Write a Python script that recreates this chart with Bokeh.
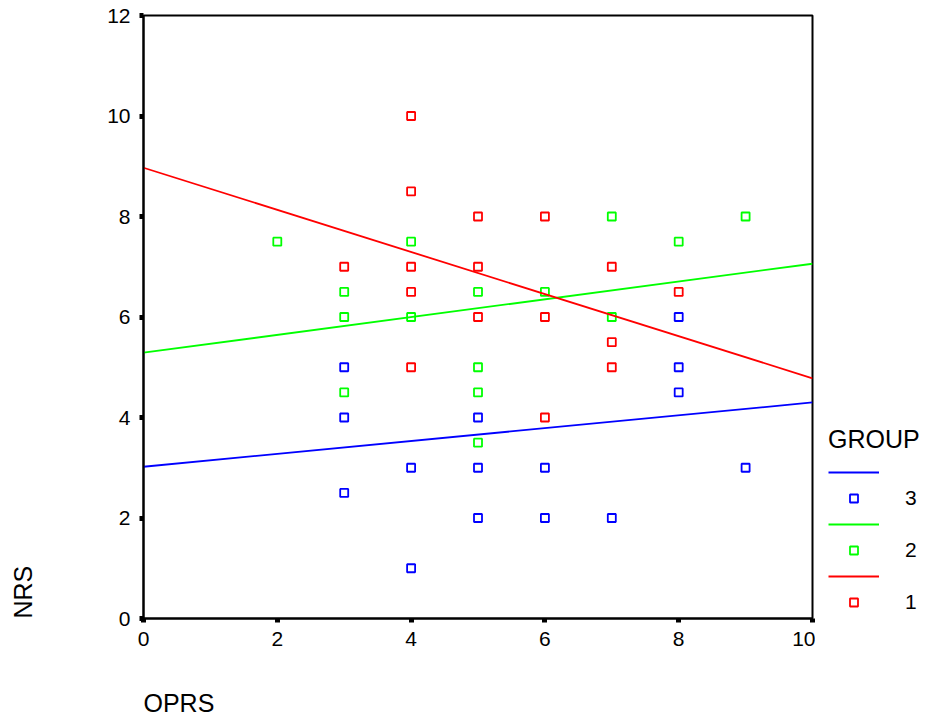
from bokeh.plotting import figure
from bokeh.models import Range1d, Legend, LegendItem, Title, FixedTicker
from bokeh.layouts import row
from bokeh.embed import file_html
from bokeh.resources import INLINE

# ---- data ----
groups = ["3", "2", "1"]
colors = ["#0000FF", "#00FF00", "#FF0000"]

oprs_g3 = [3, 3, 5, 4, 5, 6, 9, 3, 5, 6, 7, 4, 8, 8, 8]
nrs_g3 = [5, 4, 4, 3, 3, 3, 3, 2.5, 2, 2, 2, 1, 6, 5, 4.5]

oprs_g2 = [2, 4, 7, 9, 8, 3, 5, 6, 3, 4, 7, 5, 3, 5, 5]
nrs_g2 = [7.5, 7.5, 8, 8, 7.5, 6.5, 6.5, 6.5, 6, 6, 6, 5, 4.5, 4.5, 3.5]

oprs_g1 = [4, 4, 5, 6, 7, 3, 4, 5, 4, 8, 5, 6, 7, 4, 7, 6]
nrs_g1 = [10, 8.5, 8, 8, 7, 7, 7, 7, 6.5, 6.5, 6, 6, 5.5, 5, 5, 4]

# fitted lines (value at OPRS=0 and OPRS=10)
fit_x = [0, 10]
fit_g3 = [3.02, 4.30]
fit_g2 = [5.29, 7.06]
fit_g1 = [8.97, 4.78]

x_ticks = [0, 2, 4, 6, 8, 10]
y_ticks = [0, 2, 4, 6, 8, 10, 12]

FONT = "Liberation Sans"

p = figure(width=815, height=723, output_backend="svg", toolbar_location=None,
           x_range=Range1d(0, 10), y_range=Range1d(0, 12),
           min_border_left=143, min_border_right=3, min_border_top=15, min_border_bottom=105)
p.xgrid.visible = False
p.ygrid.visible = False
p.outline_line_color = "black"
p.outline_line_width = 2
p.background_fill_color = "white"
p.border_fill_color = "white"

for ax, ticks, standoff in ((p.xaxis[0], x_ticks, 9), (p.yaxis[0], y_ticks, 9)):
    ax.ticker = FixedTicker(ticks=ticks)
    ax.minor_tick_line_color = None
    ax.major_tick_in = 0
    ax.major_tick_out = 4
    ax.major_tick_line_width = 5
    ax.major_tick_line_color = "black"
    ax.axis_line_width = 2
    ax.axis_line_color = "black"
    ax.major_label_text_font = FONT
    ax.major_label_text_font_size = "21px"
    ax.major_label_text_color = "black"
    ax.major_label_standoff = standoff

sets = [(oprs_g3, nrs_g3, fit_g3), (oprs_g2, nrs_g2, fit_g2), (oprs_g1, nrs_g1, fit_g1)]
for (xs, ys, fit), c in zip(sets, colors):
    p.line(fit_x, fit, line_color=c, line_width=1.8)
    p.scatter(xs, ys, marker="square", size=8, fill_color=None, line_color=c, line_width=1.8)

# axis titles (spacer titles push them outward)
def title(text, size, standoff, valign="bottom"):
    return Title(text=text, align="left", offset=0, standoff=standoff, vertical_align=valign,
                 text_font=FONT, text_font_size=size, text_font_style="normal",
                 text_color="black")

p.add_layout(title(" ", "25px", 38), "left")
p.add_layout(title("NRS", "25px", 0), "left")
p.add_layout(title(" ", "25px", 8), "below")
p.add_layout(title("OPRS", "25px", 0), "below")

# legend panel (its ranges keep the copied renderers out of view; they only feed the legend)
lg = figure(width=116, height=723, output_backend="svg", toolbar_location=None,
            x_range=Range1d(-2, -1), y_range=Range1d(-2, -1),
            x_axis_location=None, y_axis_location=None,
            min_border_left=0, min_border_right=0, min_border_top=0, min_border_bottom=0)
lg.grid.visible = False
lg.outline_line_color = None
lg.background_fill_color = "white"
lg.border_fill_color = "white"

items = []
for (xs, ys, fit), c, g in zip(sets, colors, groups):
    lr = lg.line(fit_x, fit, line_color=c, line_width=1.8)
    sr = lg.scatter(xs, ys, marker="square", size=8, fill_color=None, line_color=c, line_width=1.8)
    items.append(LegendItem(label=" ", renderers=[lr]))
    items.append(LegendItem(label=g, renderers=[sr]))

legend = Legend(items=items, location=(13, 4), orientation="vertical",
                title="GROUP", title_text_font=FONT, title_text_font_size="25px",
                title_text_font_style="normal", title_text_color="black", title_standoff=8,
                label_text_font=FONT, label_text_font_size="21px", label_text_color="black",
                glyph_width=51, glyph_height=20, label_height=20, spacing=4,
                label_standoff=26, padding=0, margin=0,
                background_fill_alpha=0, border_line_color=None)
lg.add_layout(legend, "center")

layout = row(p, lg)
open("out.html", "w").write(file_html(layout, INLINE))
